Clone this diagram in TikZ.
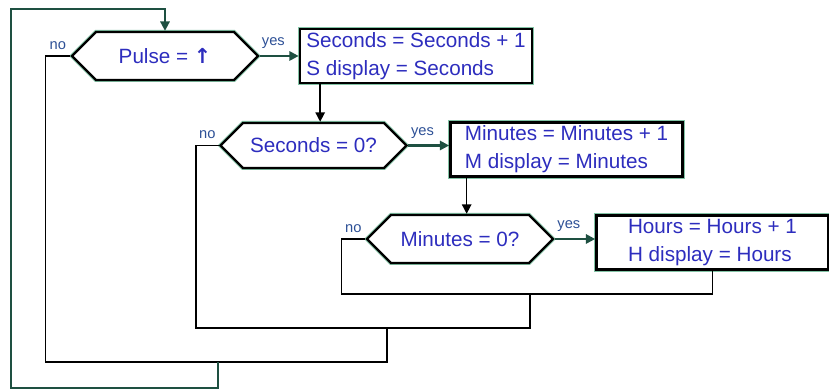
\documentclass[tikz,border=0pt]{standalone}
\usepackage{fontspec}
\setmainfont{Liberation Sans}
\newfontfamily\arrowfont{DejaVu Sans}
\usetikzlibrary{shapes,shapes.symbols,arrows.meta}

\definecolor{txtblue}{RGB}{45,45,190}
\definecolor{lblblue}{RGB}{45,80,150}
\definecolor{loopteal}{RGB}{30,80,65}
\definecolor{halo}{RGB}{130,195,165}

\begin{document}
\begin{tikzpicture}
[
  x=0.75pt, y=-0.75pt,
  decision/.style={signal, signal to=east and west, signal pointer angle=90,
    draw=black, line width=1.8pt, preaction={draw=halo, line width=3pt},
    fill=white, text=txtblue, font=\fontsize{15.5}{21}\selectfont,
    minimum width=139.5pt, minimum height=36pt, inner sep=0pt},
  action/.style={rectangle, draw=black, line width=2pt,
    preaction={draw=halo, line width=3.5pt}, fill=white, text=txtblue,
    align=left, font=\fontsize{15.5}{21}\selectfont,
    minimum width=174pt, minimum height=40.5pt, inner sep=0pt},
  wire/.style={draw=black, line width=1.1pt},
  yesline/.style={draw=loopteal, line width=1.6pt},
  flow/.style={-{Triangle[length=7pt,width=7pt]}},
  answer/.style={text=lblblue, font=\fontsize{11}{11}\selectfont,
    above=4pt, inner sep=0.5pt}
]
 \useasboundingbox (0,0) rectangle (829,391);

 \node[decision] (pulse) at (165,56) {Pulse = {\arrowfont\bfseries ↑}};
 \node[decision, minimum height=33.75pt] (secz) at (313.5,145.5) {Seconds = 0?};
 \node[decision] (minz) at (460,239) {Minutes = 0?};

 \node[action] (secinc) at (416,56) {Seconds = Seconds + 1\\S display = Seconds};
 \node[action] (mininc) at (566.5,149.5) {Minutes = Minutes + 1\\M display = Minutes};
 \node[action] (hourinc) at (712.5,242.5) {Hours = Hours + 1\\H display = Hours};

 % merge points of the no branches
 \coordinate (m3) at (530,294);
 \coordinate (m2) at (387,328);
 \coordinate (m1) at (218,362);
 \coordinate (base) at (11,388);
 \coordinate (top) at (11,9);

 \draw[yesline, flow] (pulse.east) -- node[answer, pos=0.35] {yes} (pulse.east -| secinc.west);
 \draw[yesline, flow] (secz.east) -- node[answer, pos=0.35] {yes} (secz.east -| mininc.west);
 \draw[yesline, flow] (minz.east) -- node[answer, pos=0.35] {yes} (minz.east -| hourinc.west);

 \draw[wire, flow] ([xshift=5pt]secz.north |- secinc.south) -- ([xshift=5pt]secz.north);
 \draw[wire, flow] ([xshift=5pt]minz.north |- mininc.south) -- ([xshift=5pt]minz.north);

 \draw[wire] (minz.west) -- node[answer] {no} ++(-24,0) |- (m3) -| (hourinc.south);
 \draw[wire] (secz.west) -- node[answer] {no} ++(-23,0) |- (m2) -| (m3);
 \draw[wire] (pulse.west) -- node[answer] {no} ++(-25,0) |- (m1) -| (m2);
 \draw[yesline, flow] (m1) |- (base) -- (top) -| (pulse.north);
\end{tikzpicture}
\end{document}
